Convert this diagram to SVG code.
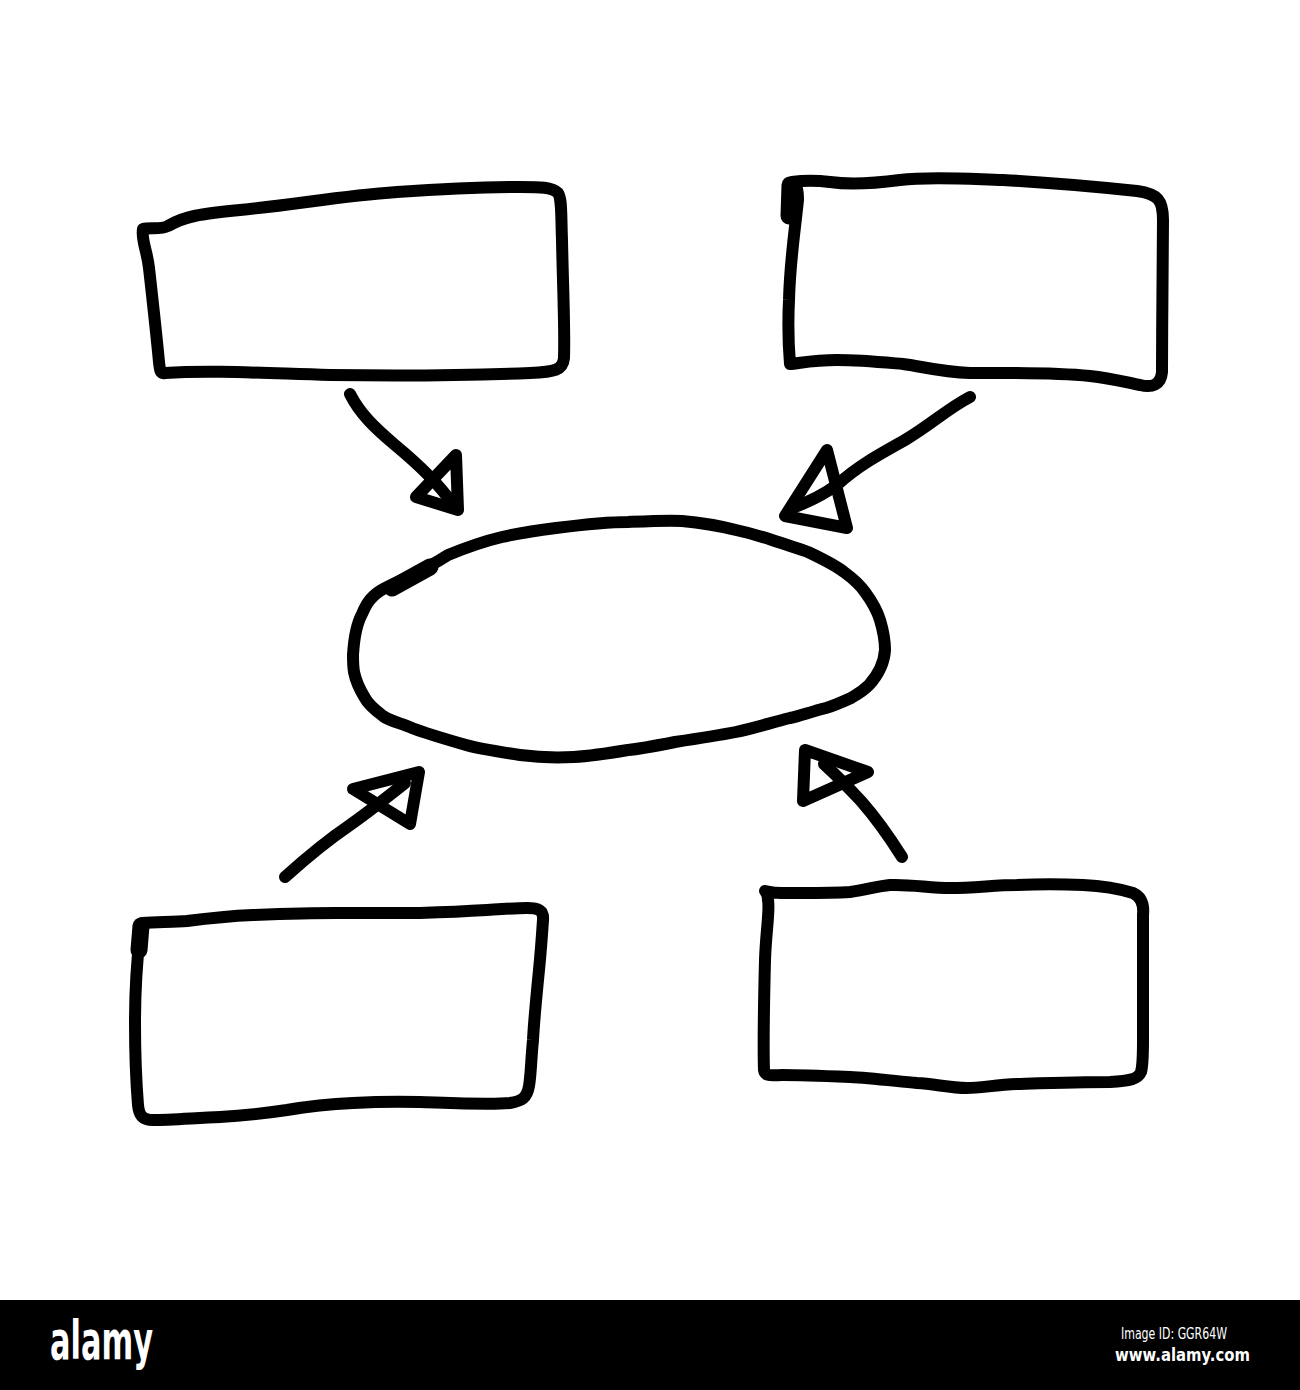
<svg xmlns="http://www.w3.org/2000/svg" width="1300" height="1390" viewBox="0 0 1300 1390">
<style>
.ink{fill:none;stroke:#000;stroke-width:12;stroke-linecap:round;stroke-linejoin:round}
.blob{fill:none;stroke:#000;stroke-width:17;stroke-linecap:round}
.wm{fill:#fff;font-family:"DejaVu Sans","Liberation Sans",sans-serif}
</style>
<rect x="0" y="0" width="1300" height="1390" fill="#fff"/>
<g id="box-top-left">
<path class="ink" d="M143 229 C150 227,160 230,168 226 C185 216,200 214,240 210 C300 204,340 196,397 192 C440 189,480 187,520 187 C540 187,552 187,558 193 C562 199,561 215,562 240 C563 290,565 330,564 358 C563 370,555 372,530 373 C480 375,400 376,330 375 C260 373,210 370,165 373 C160 374,160 370,159 362 C156 330,152 295,149 268 C147 250,141 240,143 229 Z"/>
</g>
<g id="box-top-right">
<path class="ink" d="M792 182 C805 180,815 180,830 182 C850 185,870 184,900 180 C930 176,970 179,1003 180 C1040 182,1080 185,1137 191 C1158 194,1163 200,1163 220 C1163 260,1162 320,1162 372 C1161 385,1152 388,1140 385 C1125 382,1110 378,1090 376 C1050 372,1000 373,970 373 C940 372,920 366,903 364 C880 362,860 360,837 360 C815 360,800 363,790 364 C788 340,788 320,789 300 C790 260,795 230,798 200 C798 190,797 185,792 182 Z"/>
<path class="blob" d="M790 185 L789 216"/>
</g>
<g id="ellipse-center">
<path class="ink" d="M353 655 C354 638,356 625,362 614 C367 602,372 595,385 588 C405 578,425 570,448 555 C470 546,485 541,502 537 C520 533,540 530,556 528 C580 525,605 522,628 522 C650 521,670 520,682 521 C705 523,720 526,736 530 C750 533,760 536,772 540 C790 546,800 549,808 552 C825 560,835 565,844 572 C855 580,860 585,865 592 C873 603,877 610,880 620 C883 630,885 640,885 650 C884 665,878 675,869 685 C862 692,856 695,851 698 C840 703,833 706,826 708 C810 712,800 716,790 718 C770 723,755 728,736 732 C715 736,695 739,675 742 C655 746,640 749,628 750 C610 753,590 756,574 757 C555 758,535 757,520 755 C500 752,480 749,466 745 C445 739,425 733,412 728 C400 723,390 721,383 716 C375 710,368 704,365 698 C360 690,356 682,354 672 C353 666,353 660,353 655 Z"/>
<path class="blob" d="M392 588 L430 567"/>
</g>
<g id="box-bottom-left">
<path class="ink" d="M142 923 C160 922,175 922,187 921 C210 918,230 916,253 915 C280 914,310 913,337 913 C370 913,400 913,420 913 C450 912,470 911,487 910 C505 909,515 908,527 908 C538 908,544 910,543 920 C542 935,541 950,539 970 C536 1000,534 1020,533 1040 C531 1060,531 1075,529 1086 C527 1098,522 1101,510 1103 C490 1105,450 1103,420 1102 C390 1101,370 1102,353 1103 C330 1104,310 1106,287 1110 C260 1114,240 1116,220 1117 C195 1118,170 1120,153 1120 C142 1120,139 1115,138 1105 C136 1080,135 1050,135 1023 C135 990,137 960,140 935 Z"/>
<path class="blob" d="M141 926 L139 950"/>
</g>
<g id="box-bottom-right">
<path class="ink" d="M765 891 C775 894,790 893,800 893 C820 893,835 893,850 892 C865 890,878 886,890 885 C910 884,930 888,950 888 C975 888,995 885,1017 885 C1040 884,1060 884,1083 885 C1105 886,1120 889,1133 893 C1142 897,1144 905,1143 915 C1143 950,1143 1000,1143 1040 C1143 1055,1143 1065,1141 1072 C1138 1079,1130 1081,1110 1082 C1080 1082,1050 1083,1017 1084 C995 1085,980 1088,967 1088 C950 1088,935 1084,917 1083 C895 1081,870 1078,850 1077 C825 1076,800 1075,783 1075 C772 1075,765 1077,764 1070 C763 1040,764 1000,765 960 C766 930,770 910,768 900 C768 895,767 893,765 891 Z"/>
</g>
<g id="connectors">
<path class="ink" d="M350 394 C360 414,375 428,395 445 C418 464,438 483,452 503"/>
<path class="ink" d="M456 455 L416 497 L458 510 Z"/>
<path class="ink" d="M970 397 C947 409,932 424,905 440 C878 455,858 466,838 484 C822 496,806 503,792 508"/>
<path class="ink" d="M827 450 L785 516 L847 528 Z"/>
<path class="ink" d="M285 877 C305 859,325 842,350 825 C370 811,386 798,405 783"/>
<path class="ink" d="M353 789 L419 772 L410 824 Z"/>
<path class="ink" d="M902 857 C890 838,876 818,861 801 C848 787,836 775,824 764"/>
<path class="ink" d="M805 750 L868 772 L803 801 Z"/>
</g>
<g id="footer">
<rect x="0" y="1300" width="1300" height="90" fill="#000"/>
<text class="wm" x="50" y="1359" font-size="54" font-weight="bold" textLength="103" lengthAdjust="spacingAndGlyphs">alamy</text>
<text class="wm" x="1121" y="1339" font-size="15" fill="#ddd" textLength="106" lengthAdjust="spacingAndGlyphs">Image ID: GGR64W</text>
<text class="wm" x="1115" y="1361" font-size="17" font-weight="bold" textLength="135" lengthAdjust="spacingAndGlyphs">www.alamy.com</text>
</g>
</svg>
